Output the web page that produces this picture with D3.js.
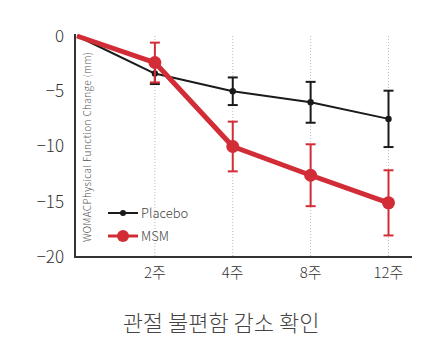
<!DOCTYPE html>
<html>
<head>
<meta charset="utf-8">
<script src="https://cdn.jsdelivr.net/npm/d3@7"></script>
<style>
  body { margin: 0; background: #fff; }
  text { font-family: "Noto Sans CJK KR", "Noto Sans", sans-serif; font-weight: 300; }
</style>
</head>
<body>
<div id="chart"></div>
<script>
// data
const weeks = ["0", "2주", "4주", "8주", "12주"];
const yTicks = [0, -5, -10, -15, -20];
const placebo = [0, -3.4, -5.0, -6.0, -7.5];
const placeboErr = [0, 0.95, 1.25, 1.85, 2.55];
const msm = [0, -2.4, -10.0, -12.6, -15.1];
const msmErr = [0, 1.8, 2.25, 2.8, 2.95];

const width = 436, height = 353;
const red = "#d22c37", dark = "#1a1a1a";

const svg = d3.select("#chart").append("svg")
    .attr("width", width)
    .attr("height", height);

const x = d3.scalePoint()
    .domain(weeks)
    .range([77, 388.5]);

const y = d3.scaleLinear()
    .domain([-20, 0])
    .range([257, 36]);

// dotted gridlines
svg.append("g")
  .selectAll("line")
  .data(weeks.slice(1))
  .enter()
  .append("line")
    .attr("x1", d => x(d)).attr("x2", d => x(d))
    .attr("y1", 36).attr("y2", 257)
    .attr("stroke", "#bbb")
    .attr("stroke-width", 1)
    .attr("stroke-dasharray", "1,2");

// axes
svg.append("line")
    .attr("x1", 75).attr("x2", 75)
    .attr("y1", 34).attr("y2", 258)
    .attr("stroke", "#333").attr("stroke-width", 2);
svg.append("line")
    .attr("x1", 74).attr("x2", 412)
    .attr("y1", 257).attr("y2", 257)
    .attr("stroke", "#333").attr("stroke-width", 2);

svg.append("g")
  .selectAll("text")
  .data(yTicks)
  .enter()
  .append("text")
    .attr("x", 64)
    .attr("y", d => y(d))
    .attr("dy", "0.35em")
    .attr("text-anchor", "end")
    .attr("font-size", 17)
    .attr("fill", "#333")
    .text(d => d === 0 ? "0" : "\u2212" + Math.abs(d));

svg.append("g")
  .selectAll("text")
  .data(weeks.slice(1))
  .enter()
  .append("text")
    .attr("x", d => x(d))
    .attr("y", 273)
    .attr("dy", "0.35em")
    .attr("text-anchor", "middle")
    .attr("font-size", 15)
    .attr("fill", "#333")
    .text(d => d);

// y axis title
svg.append("text")
    .attr("transform", "translate(91,147) rotate(-90)")
    .attr("text-anchor", "middle")
    .attr("font-size", 10)
    .attr("fill", "#555")
    .attr("textLength", 190)
    .text("WOMACPhysical Function Change (mm)");

function series(vals, errs, color, lw, r) {
  const g = svg.append("g");
  const pts = weeks.map((w, i) => ({w, v: vals[i], e: errs[i]}));
  g.append("path")
      .datum(pts)
      .attr("fill", "none")
      .attr("stroke", color)
      .attr("stroke-width", lw)
      .attr("stroke-linejoin", "round")
      .attr("d", d3.line().x(d => x(d.w)).y(d => y(d.v)));
  const eb = g.selectAll("g.err")
    .data(pts.filter(d => d.e > 0))
    .enter().append("g");
  eb.append("line")
      .attr("x1", d => x(d.w)).attr("x2", d => x(d.w))
      .attr("y1", d => y(d.v + d.e)).attr("y2", d => y(d.v - d.e))
      .attr("stroke", color).attr("stroke-width", 2);
  [1, -1].forEach(s => {
    eb.append("line")
        .attr("x1", d => x(d.w) - 5).attr("x2", d => x(d.w) + 5)
        .attr("y1", d => y(d.v + s * d.e)).attr("y2", d => y(d.v + s * d.e))
        .attr("stroke", color).attr("stroke-width", 2);
  });
  g.selectAll("circle")
    .data(pts.slice(1))
    .enter().append("circle")
      .attr("cx", d => x(d.w))
      .attr("cy", d => y(d.v))
      .attr("r", r)
      .attr("fill", color);
}

series(placebo, placeboErr, dark, 2, 3.2);
series(msm, msmErr, red, 5, 6.5);

// legend
const legend = [
  {name: "Placebo", color: dark, lw: 2, r: 3, y: 213},
  {name: "MSM", color: red, lw: 3, r: 6, y: 236}
];
const lg = svg.append("g").selectAll("g").data(legend).enter().append("g");
lg.append("line")
    .attr("x1", 108).attr("x2", 138)
    .attr("y1", d => d.y).attr("y2", d => d.y)
    .attr("stroke", d => d.color).attr("stroke-width", d => d.lw);
lg.append("circle")
    .attr("cx", 123).attr("cy", d => d.y).attr("r", d => d.r)
    .attr("fill", d => d.color);
lg.append("text")
    .attr("x", 141).attr("y", d => d.y)
    .attr("dy", "0.35em")
    .attr("font-size", 13)
    .attr("fill", "#444")
    .text(d => d.name);

// title
svg.append("text")
    .attr("x", 221)
    .attr("y", 323)
    .attr("dy", "0.35em")
    .attr("text-anchor", "middle")
    .attr("font-size", 22)
    .attr("fill", "#444")
    .text("관절 불편함 감소 확인");
</script>
</body>
</html>
